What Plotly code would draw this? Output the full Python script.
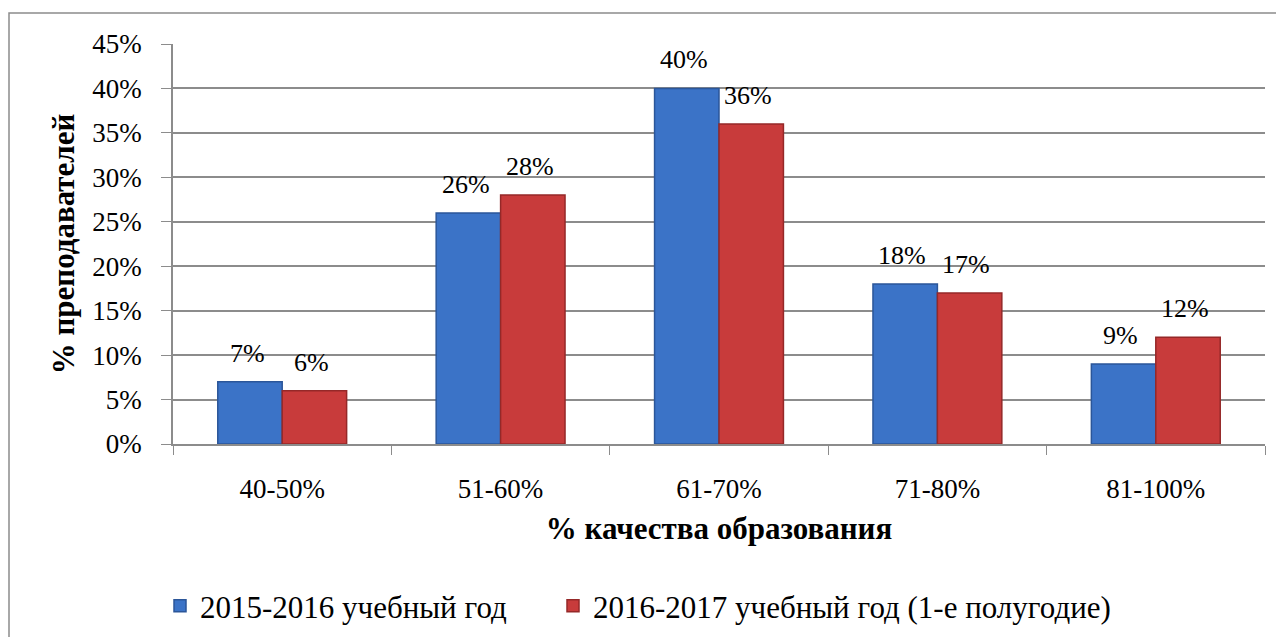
import plotly.graph_objects as go

categories = ["40-50%", "51-60%", "61-70%", "71-80%", "81-100%"]
series1_name = "2015-2016 учебный год"
series2_name = "2016-2017 учебный год (1-е полугодие)"
series1 = [7, 26, 40, 18, 9]
series2 = [6, 28, 36, 17, 12]
y_ticks = [0, 5, 10, 15, 20, 25, 30, 35, 40, 45]

font_family = "Liberation Serif, Times New Roman, serif"

W, H = 1276, 629
L, T, R, B = 165, 36, 19, 193
PW, PH = W - L - R, H - T - B
BAR_HALF = 32

fig = go.Figure()
fig.add_trace(go.Bar(
    x=categories, y=series1, name=series1_name, legend="legend",
    marker=dict(color="#3b73c7", line=dict(color="#2b5699", width=1.5)),
))
fig.add_trace(go.Bar(
    x=categories, y=series2, name=series2_name, legend="legend2",
    marker=dict(color="#c83b3b", line=dict(color="#952828", width=1.5)),
))

annotations = []
for vals, shift in ((series1, -BAR_HALF), (series2, BAR_HALF)):
    for c, v in zip(categories, vals):
        annotations.append(dict(
            x=c, y=v, xref="x", yref="y", text=f"{v}%", showarrow=False,
            xshift=shift - 3, yshift=12, yanchor="bottom", xanchor="center",
            font=dict(size=26, color="black", family=font_family),
        ))

legend_y = -(598 - (H - B)) / PH
fig.update_layout(
    width=W, height=H,
    margin=dict(l=L, r=R, t=T, b=B, autoexpand=False),
    paper_bgcolor="white", plot_bgcolor="white",
    font=dict(family=font_family, size=27, color="black"),
    barmode="group", bargap=0.41, bargroupgap=0,
    showlegend=True,
    legend=dict(orientation="h", x=(152 - L) / PW, xanchor="left",
                y=legend_y, yanchor="middle",
                font=dict(size=31, family=font_family), itemwidth=30),
    legend2=dict(orientation="h", x=(545 - L) / PW, xanchor="left",
                 y=legend_y, yanchor="middle",
                 font=dict(size=31, family=font_family), itemwidth=30),
    xaxis=dict(
        title=dict(text="<b>% качества образования</b>", font=dict(size=31), standoff=14),
        showline=True, linecolor="#8c8c8c", linewidth=1.5,
        ticks="outside", tickson="boundaries", ticklen=9, tickcolor="#8c8c8c",
        tickfont=dict(size=27), showgrid=False, ticklabelstandoff=20,
    ),
    yaxis=dict(
        title=dict(text="<b>% преподавателей</b>", font=dict(size=31), standoff=8),
        range=[0, 45], tickvals=y_ticks, ticktext=[f"{v}%" for v in y_ticks],
        showline=True, linecolor="#8c8c8c", linewidth=1.5,
        ticks="outside", ticklen=10, tickcolor="#8c8c8c",
        showgrid=True, gridcolor="#8c8c8c", gridwidth=1.5,
        tickfont=dict(size=27), zeroline=False, ticklabelstandoff=14,
    ),
    annotations=annotations,
    shapes=[dict(type="rect", xref="paper", yref="paper",
                 x0=(1 - L) / PW, x1=(1269 - L) / PW,
                 y0=-(650 - (H - B)) / PH, y1=((H - B) - 5) / PH,
                 line=dict(color="#8c8c8c", width=1.5), fillcolor="rgba(0,0,0,0)", layer="below")],
)

fig.write_html("out.html")
